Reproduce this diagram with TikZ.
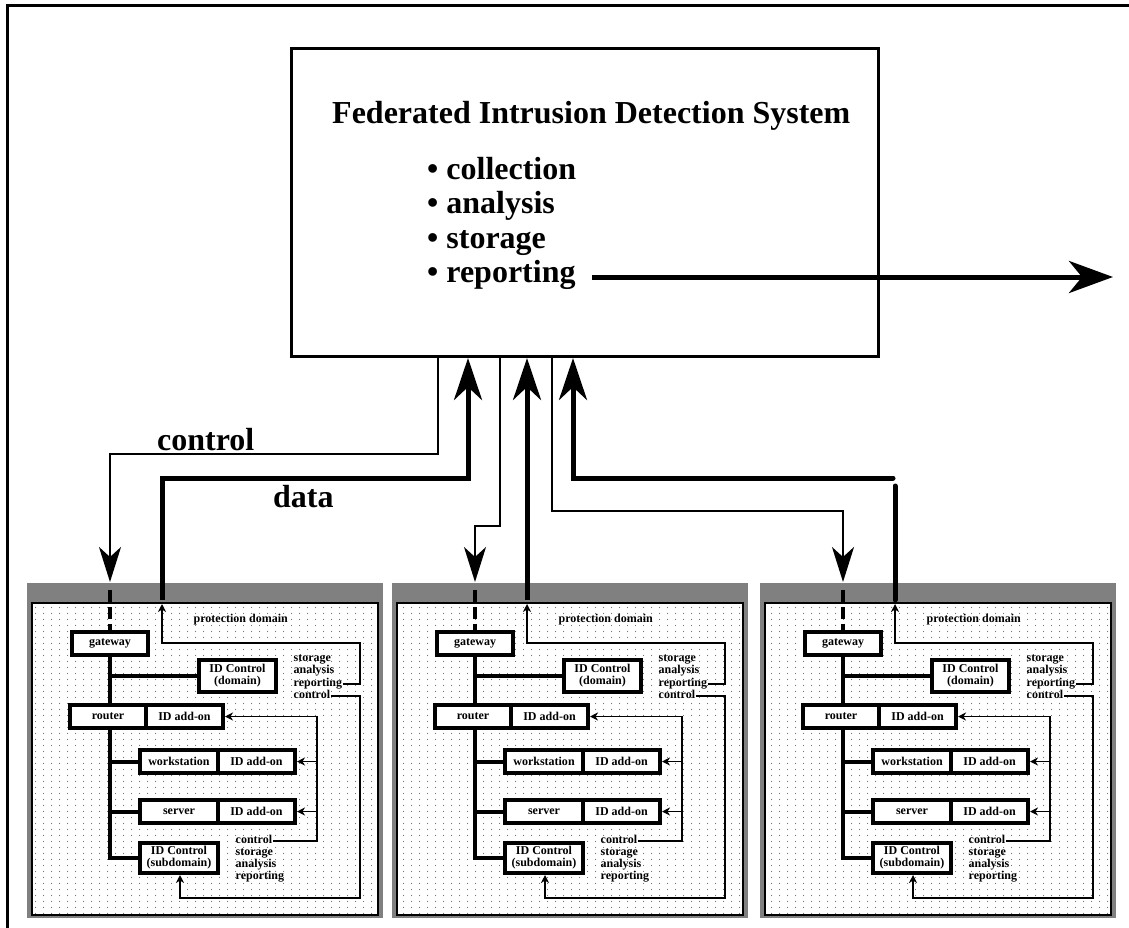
\documentclass[tikz,border=0pt]{standalone}
\usepackage{fontspec}
\setmainfont{Liberation Serif}
\usetikzlibrary{arrows.meta,patterns.meta}

% sparse dot fill used inside each protection domain
\tikzdeclarepattern{
  name=domdots,
  type=uncolored,
  bounding box={(0pt,0pt) and (8pt,6pt)},
  tile size={(8pt,6pt)},
  code={\fill (4pt,3pt) circle (0.6pt);}
}

\newcommand{\bigbf}{\fontsize{32}{34}\selectfont\bfseries}
\newcommand{\smallfnt}{\fontsize{12}{12}\selectfont\bfseries}

\tikzset{
  mainbox/.style={draw, line width=3pt, inner sep=0pt},
  bigtext/.style={font=\bigbf, inner sep=0pt, anchor=base west},
  comp/.style={draw, line width=4pt, fill=white, inner sep=0pt, font=\smallfnt, align=center},
  lbl/.style={font=\smallfnt, inner sep=0.5pt, anchor=west, text height=7pt, text depth=2pt},
  thinlink/.style={line width=2pt},
  datalink/.style={line width=5pt},
  ctlarrow/.style={-{Stealth[length=35pt,width=22pt,inset=10pt]}},
  dataarrow/.style={-{Stealth[length=42pt,width=28pt,inset=13pt]}},
  busline/.style={line width=4pt},
  feed/.style={line width=1.6pt},
  tinyarrow/.style={-{Stealth[length=8pt,width=8pt,inset=2.5pt]}},
  greyband/.style={fill=black!50},
  domarea/.style={draw, line width=1.5pt, preaction={fill=white}, pattern=domdots, pattern color=black!60},
}

% one protection domain: #1 = horizontal offset, #2 = name prefix
\newcommand{\protdomain}[2]{%
\begin{scope}[xshift=#1]
  \fill[greyband] (27,583) rectangle (383,918);
  \path[domarea] (32,603) rectangle (378,915);
  \coordinate (#2in) at (110,582);
  \coordinate (#2dash) at (110,590);
  \coordinate (#2out) at (162,600);
  \coordinate (#2dtip) at (162,604);
  \node[lbl] (#2pd) at (193,620) {protection domain};
  \node[comp, minimum width=76pt, minimum height=23pt] (#2gw) at (110,643.5) {gateway};
  \node[comp, minimum width=77pt, minimum height=32pt] (#2idd) at (237.5,676) {ID Control\\(domain)};
  \node[comp, minimum width=76pt, minimum height=23pt] (#2rt) at (108,716.5) {router};
  \node[comp, minimum width=77pt, minimum height=23pt] (#2rta) at (184.5,716.5) {ID add-on};
  \node[comp, minimum width=78pt, minimum height=23pt] (#2ws) at (179,761.5) {workstation};
  \node[comp, minimum width=77pt, minimum height=23pt] (#2wsa) at (256.5,761.5) {ID add-on};
  \node[comp, minimum width=78pt, minimum height=23pt] (#2sv) at (179,811.5) {server};
  \node[comp, minimum width=77pt, minimum height=23pt] (#2sva) at (256.5,811.5) {ID add-on};
  \node[comp, minimum width=78pt, minimum height=30pt] (#2ids) at (179,858) {ID Control\\(subdomain)};
  % upper label block
  \node[lbl] (#2sto) at (293,659) {storage};
  \node[lbl] (#2ana) at (293,671) {analysis};
  \node[lbl] (#2rep) at (293,684) {reporting};
  \node[lbl] (#2ctl) at (293,696) {control};
  % lower label block
  \node[lbl] (#2ctlb) at (235,841) {control};
  \node[lbl] (#2stob) at (235,853) {storage};
  \node[lbl] (#2anab) at (235,865) {analysis};
  \node[lbl] (#2repb) at (235,877) {reporting};
  % network bus
  \draw[busline, dash pattern=on 12pt off 5pt] (#2dash) -- (#2gw.north);
  \draw[busline] (#2gw.south) -- (#2gw.south |- #2rt.north);
  \draw[busline] (#2gw.south |- #2idd.west) -- (#2idd.west);
  \draw[busline] (#2gw.south |- #2rt.south) -- (#2gw.south |- #2ids.west) -- (#2ids.west);
  \draw[busline] (#2gw.south |- #2ws.west) -- (#2ws.west);
  \draw[busline] (#2gw.south |- #2sv.west) -- (#2sv.west);
  % reporting path out of the domain
  \draw[feed, tinyarrow] (#2rep.east) -- (360,684) -- (360,643) -- (162,643) -- (#2dtip);
  % control path to the subdomain controller
  \draw[feed, tinyarrow] (#2ctl.east) -- (360,696) -- (360,898) -- (180,898) -- (#2ids.south -| 180,0);
  % control paths to the add-ons
  \draw[feed, tinyarrow] (#2ctlb.east) -- (317,841) -- (317,716.5) -- (#2rta.east);
  \draw[feed, tinyarrow] (317,761.5) -- (#2wsa.east);
  \draw[feed, tinyarrow] (317,811.5) -- (#2sva.east);
\end{scope}}

\begin{document}
\begin{tikzpicture}[x=1pt,y=-1pt]
\useasboundingbox (0,0) rectangle (1129,928);

% frame
\draw[line width=3pt] (7.5,928) -- (7.5,5.5) -- (1129,5.5);

% central system
\node[mainbox, minimum width=587pt, minimum height=308pt] (fids) at (585,202.5) {};
\node[bigtext] (title) at (332,124) {Federated Intrusion Detection System};
\node[bigtext] (col) at (427,180) {• collection};
\node[bigtext] (ana) at (427,214) {• analysis};
\node[bigtext] (sto) at (427,248) {• storage};
\node[bigtext] (rep) at (427,282) {• reporting};
\coordinate (repout) at (592,277);
\coordinate (outtip) at (1113,277);
\draw[datalink, -{Stealth[length=44pt,width=32pt,inset=13pt]}] (repout) -- (outtip);

% domains
\protdomain{0}{d1}
\protdomain{365}{d2}
\protdomain{733}{d3}

% labels on the first pair of links
\node[bigtext] (ctltxt) at (157,450) {control};
\node[bigtext] (datatxt) at (273,507) {data};

% control links
\draw[thinlink, ctlarrow] (fids.south -| 438,0) -- (438,454) -- (110,454) -- (d1in);
\draw[thinlink, ctlarrow] (fids.south -| 500,0) -- (500,526) -- (475,526) -- (d2in);
\draw[thinlink, ctlarrow] (fids.south -| 552,0) -- (552,511) -- (843,511) -- (d3in);

% data links
\draw[datalink, dataarrow] (d1out) -- (162,478) -- (468,478) -- (fids.south -| 468,0);
\draw[datalink, dataarrow] (d2out) -- (fids.south -| d2out);
\draw[datalink, line cap=round] (d3out) -- (895,486);
\draw[datalink, dataarrow, line cap=round] (893,478) -- (573,478) -- (fids.south -| 573,0);
\end{tikzpicture}
\end{document}
